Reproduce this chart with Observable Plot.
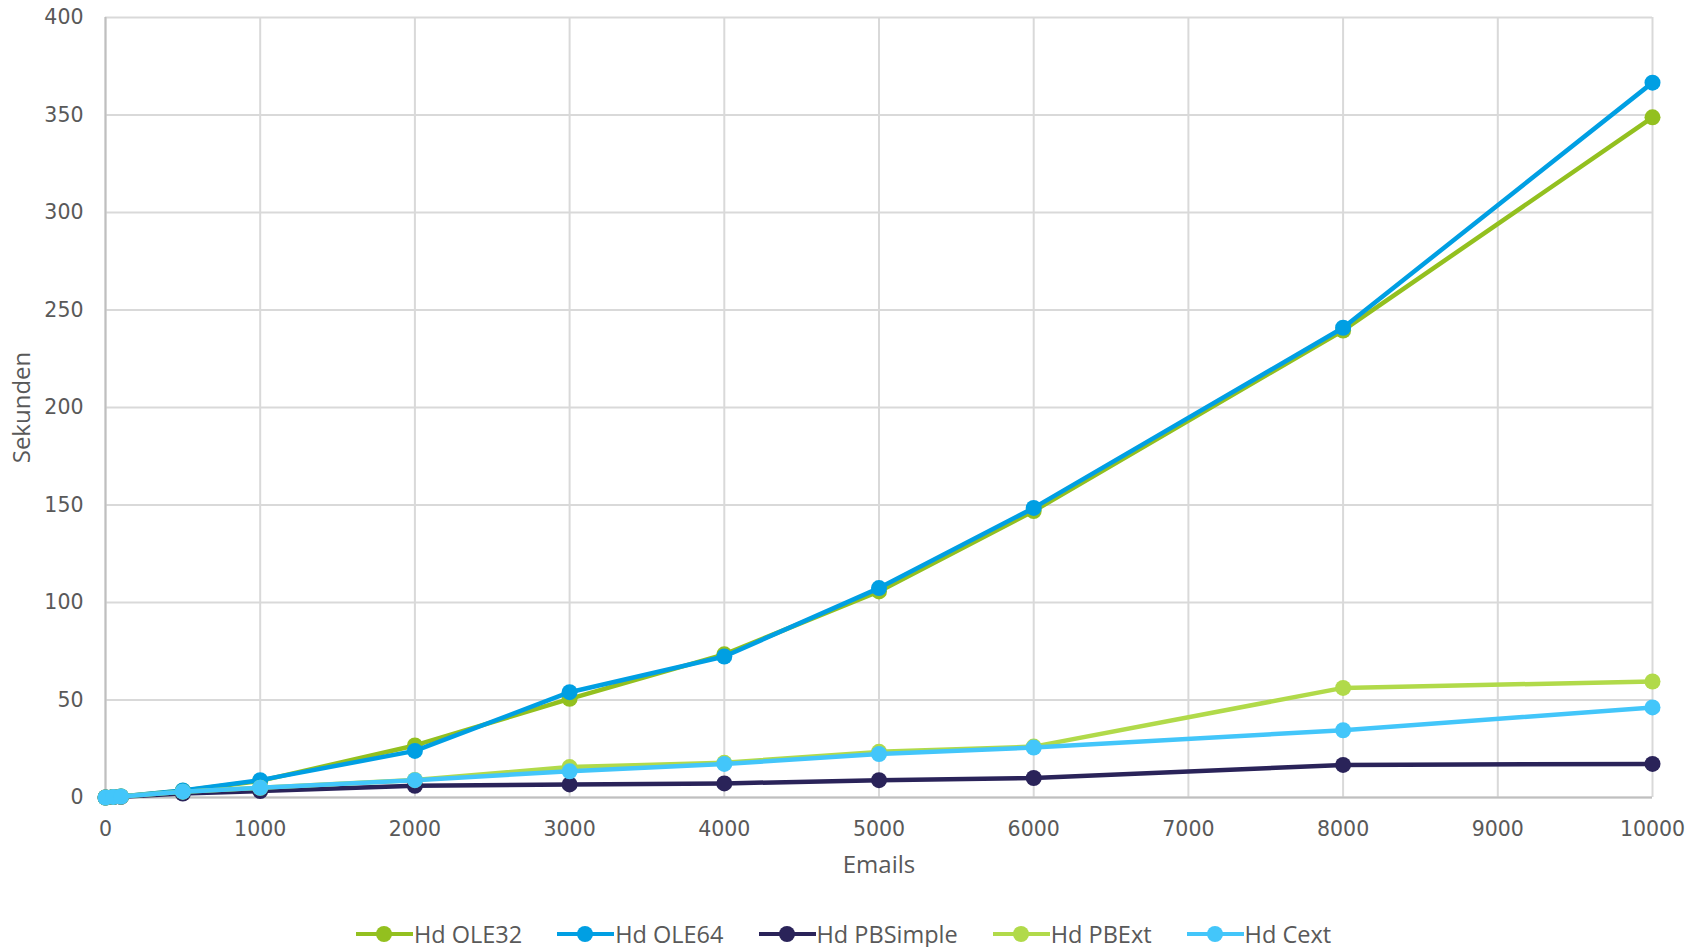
<!DOCTYPE html>
<html>
<head>
<meta charset="utf-8">
<script src="https://cdn.jsdelivr.net/npm/d3@7"></script>
<script src="https://cdn.jsdelivr.net/npm/@observablehq/plot@0.6"></script>
<style>
  html, body { margin: 0; padding: 0; background: #fff; }
  body { width: 1703px; height: 947px; overflow: hidden; font-family: "Open Sans", sans-serif; }
  #legend { width: 1703px; display: flex; justify-content: center; gap: 35px; margin-top: 28px; margin-left: -8px; font-size: 23.5px; color: #595959; }
  .item { display: flex; align-items: center; }
  .sw { position: relative; width: 57px; height: 18px; margin-right: 1px; }
  .sw .ln { position: absolute; left: 0; right: 0; top: 7px; height: 4px; }
  .sw .dt { position: absolute; left: 20px; top: 1px; width: 16px; height: 16px; border-radius: 50%; }
</style>
</head>
<body>
<div id="chart"></div>
<div id="legend"></div>
<script>
const emails = [0, 50, 100, 500, 1000, 2000, 3000, 4000, 5000, 6000, 8000, 10000];
const seriesNames = ["Hd OLE32", "Hd OLE64", "Hd PBSimple", "Hd PBExt", "Hd Cext"];
const hdOLE32    = [0, 0.3, 0.5, 3.5, 8.5, 26.7, 50.6, 73.4, 105.7, 146.9, 239.5, 348.8];
const hdOLE64    = [0, 0.3, 0.5, 3.6, 8.9, 23.9, 54.0, 72.3, 107.4, 148.5, 240.9, 366.6];
const hdPBSimple = [0, 0.2, 0.4, 2.0, 3.3, 6.0, 6.7, 7.2, 8.9, 10.0, 16.7, 17.2];
const hdPBExt    = [0, 0.3, 0.5, 3.0, 5.0, 9.0, 15.6, 17.8, 23.4, 26.1, 56.2, 59.5];
const hdCext     = [0, 0.3, 0.5, 3.0, 5.0, 8.9, 13.4, 17.2, 22.3, 25.6, 34.5, 46.2];
const colors = ["#93c01f", "#009fe3", "#2a2359", "#b1da4a", "#43c6fa"];
const yTicks = [0, 50, 100, 150, 200, 250, 300, 350, 400];
const xTicks = [0, 1000, 2000, 3000, 4000, 5000, 6000, 7000, 8000, 9000, 10000];
const xLabel = "Emails";
const yLabel = "Sekunden";

const allValues = [hdOLE32, hdOLE64, hdPBSimple, hdPBExt, hdCext];
const rows = seriesNames.map((name, i) => emails.map((e, j) => ({series: name, emails: e, value: allValues[i][j]})));

const seriesMarks = rows.flatMap((data, i) => [
  Plot.line(data, {x: "emails", y: "value", stroke: colors[i], strokeWidth: 4.5, strokeLinejoin: "round"}),
  Plot.dot(data, {x: "emails", y: "value", fill: colors[i], r: 8})
]);

const chart = Plot.plot({
  width: 1703,
  height: 890,
  marginLeft: 105,
  marginRight: 51,
  marginTop: 17,
  marginBottom: 93,
  style: {fontFamily: "'DejaVu Sans', sans-serif", fontSize: "20px", color: "#595959", background: "#fff"},
  x: {domain: [0, 10000], label: null},
  y: {domain: [0, 400], label: null},
  marks: [
    Plot.gridX(xTicks, {stroke: "#d9d9d9", strokeOpacity: 1, strokeWidth: 2}),
    Plot.gridY(yTicks, {stroke: "#d9d9d9", strokeOpacity: 1, strokeWidth: 2}),
    Plot.ruleX([0], {stroke: "#bfbfbf", strokeWidth: 2}),
    Plot.ruleY([0], {stroke: "#bfbfbf", strokeWidth: 2}),
    Plot.axisX(xTicks, {tickSize: 0, tickPadding: 24, tickFormat: d => String(d), fontSize: 20.5, label: null}),
    Plot.axisY(yTicks, {tickSize: 0, tickPadding: 22, tickFormat: d => String(d), fontSize: 20.5, label: null}),
    Plot.text([xLabel], {frameAnchor: "bottom", dy: 75, text: d => d, fontSize: 24, fontFamily: "'Open Sans', sans-serif", fill: "#595959"}),
    Plot.text([yLabel], {frameAnchor: "left", textAnchor: "middle", dx: -83, rotate: -90, text: d => d, fontSize: 24, fontFamily: "'Open Sans', sans-serif", fill: "#595959"}),
    ...seriesMarks
  ]
});
document.getElementById("chart").appendChild(chart);

const legend = document.getElementById("legend");
seriesNames.forEach((name, i) => {
  const it = document.createElement("div");
  it.className = "item";
  it.innerHTML = `<span class="sw"><span class="ln" style="background:${colors[i]}"></span><span class="dt" style="background:${colors[i]}"></span></span><span>${name}</span>`;
  legend.appendChild(it);
});
</script>
</body>
</html>
